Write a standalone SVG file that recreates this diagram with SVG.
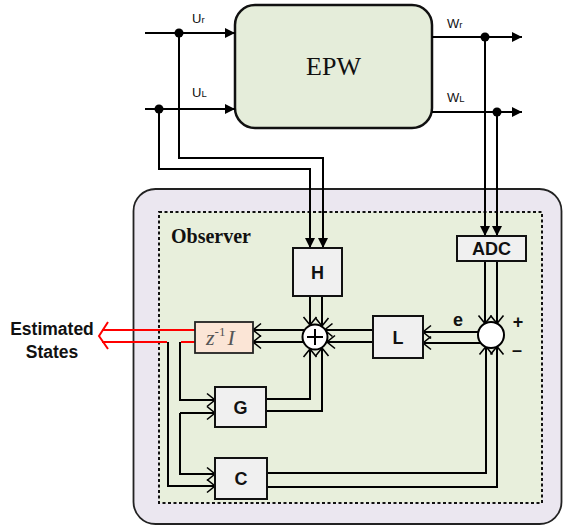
<svg xmlns="http://www.w3.org/2000/svg" width="565" height="530" viewBox="0 0 565 530">
<style>
.ln{fill:none;stroke:#000;stroke-width:2;stroke-linejoin:miter}
.red{fill:none;stroke:#ff0000;stroke-width:2}
.blk{fill:#f0f0f0;stroke:#111;stroke-width:2}
.lbl{font-family:"Liberation Sans",Arial,sans-serif;font-weight:bold;font-size:18px;fill:#111;text-anchor:middle}
.sig{font-family:"Liberation Sans",Arial,sans-serif;font-size:13px;fill:#111}
.sub{font-size:9.5px}
</style>
<defs>
<marker id="fa" markerUnits="userSpaceOnUse" viewBox="-11 -6 12 12" refX="0" refY="0" markerWidth="12" markerHeight="12" orient="auto">
<path d="M-10,-5 L0,0 L-10,5 Z" fill="#000"/>
</marker>
<marker id="oa" markerUnits="userSpaceOnUse" viewBox="-11 -8 13 16" refX="0" refY="0" markerWidth="13" markerHeight="16" orient="auto">
<path d="M-8,-6.5 L0,0 L-8,6.5" fill="none" stroke="#000" stroke-width="1.6"/>
</marker>
</defs>
<rect width="565" height="530" fill="#fff"/>
<g id="observer-frame">
<rect x="133.5" y="189" width="428" height="335" rx="22" fill="#ebe7f0" stroke="#222" stroke-width="1.8"/>
<rect x="159" y="212" width="383" height="291" fill="#e8efdc" stroke="#111" stroke-width="2" stroke-dasharray="3,2.5"/>
<text x="171" y="243" font-family="'Liberation Serif','Times New Roman',serif" font-weight="bold" font-size="20" fill="#111">Observer</text>
</g>
<g id="epw">
<rect x="235" y="5" width="197" height="123" rx="20" fill="#e5edda" stroke="#111" stroke-width="2.5"/>
<text x="333.5" y="75" font-family="'Liberation Serif','Times New Roman',serif" font-size="26" fill="#111" text-anchor="middle">EPW</text>
</g>
<g id="connectors">
<path class="ln" d="M145,33 H235" marker-end="url(#fa)"/>
<path class="ln" d="M145,109 H235" marker-end="url(#fa)"/>
<path class="ln" d="M179,33 V158 H323 V248" marker-end="url(#fa)"/>
<path class="ln" d="M159,109 V169 H310 V248" marker-end="url(#fa)"/>
<path class="ln" d="M432,37 H522" marker-end="url(#fa)"/>
<path class="ln" d="M432,112 H522" marker-end="url(#fa)"/>
<path class="ln" d="M485,37 V236" marker-end="url(#fa)"/>
<path class="ln" d="M497,112 V236" marker-end="url(#fa)"/>
<path class="ln" d="M485,261 V323.5" marker-end="url(#oa)"/>
<path class="ln" d="M497,261 V323.5" marker-end="url(#oa)"/>
<path class="ln" d="M478,332 H423" marker-end="url(#oa)"/>
<path class="ln" d="M481,343 H423" marker-end="url(#oa)"/>
<path class="ln" d="M373,330 H324.5" marker-end="url(#oa)"/>
<path class="ln" d="M373,342 H327" marker-end="url(#oa)"/>
<path class="ln" d="M310,296 V325" marker-end="url(#oa)"/>
<path class="ln" d="M322,296 V326" marker-end="url(#oa)"/>
<path class="ln" d="M305.5,330 H253" marker-end="url(#oa)"/>
<path class="ln" d="M303,342 H253" marker-end="url(#oa)"/>
<path class="ln" d="M266,399 H310 V349" marker-end="url(#oa)"/>
<path class="ln" d="M266,411 H322 V348" marker-end="url(#oa)"/>
<path class="ln" d="M180,342 V400 H215" marker-end="url(#oa)"/>
<path class="ln" d="M180,413 H215" marker-end="url(#oa)"/>
<path class="ln" d="M180,413 V474 H215" marker-end="url(#oa)"/>
<path class="ln" d="M168,342 V486 H215" marker-end="url(#oa)"/>
<path class="ln" d="M267,473 H486 V346.5" marker-end="url(#oa)"/>
<path class="ln" d="M267,487 H497 V346.5" marker-end="url(#oa)"/>
<path class="red" d="M195,330 H102"/>
<path class="red" d="M195,342 H181"/>
<path class="red" d="M167,342 H102"/>
<path class="red" d="M108,322 L99,336 L108,349"/>
<circle cx="179" cy="33" r="4.5" fill="#000"/>
<circle cx="159" cy="109" r="4.5" fill="#000"/>
<circle cx="485" cy="37" r="4.5" fill="#000"/>
<circle cx="497" cy="112" r="4.5" fill="#000"/>
</g>
<g id="labels">
<text class="sig" x="192" y="23">U<tspan class="sub">r</tspan></text>
<text class="sig" x="192" y="97">U<tspan class="sub">L</tspan></text>
<text class="sig" x="447" y="28">W<tspan class="sub">r</tspan></text>
<text class="sig" x="447" y="102">W<tspan class="sub">L</tspan></text>
<text x="52" y="335" font-family="'Liberation Sans',Arial,sans-serif" font-weight="bold" font-size="17.5" fill="#111" text-anchor="middle">Estimated</text>
<text x="52" y="358" font-family="'Liberation Sans',Arial,sans-serif" font-weight="bold" font-size="17.5" fill="#111" text-anchor="middle">States</text>
<text x="458" y="326" class="lbl" font-size="18">e</text>
<text x="518" y="328" class="lbl" font-size="24">+</text>
<text x="517" y="356" class="lbl" font-size="20">–</text>
</g>
<g id="H"><rect class="blk" x="293" y="248" width="49" height="48"/><text class="lbl" x="317.5" y="279">H</text></g>
<g id="ADC"><rect class="blk" x="457" y="236" width="69" height="25"/><text class="lbl" x="491.5" y="255">ADC</text></g>
<g id="L"><rect class="blk" x="373" y="316" width="50" height="42"/><text class="lbl" x="398" y="344">L</text></g>
<g id="G"><rect class="blk" x="215" y="387" width="51" height="40"/><text class="lbl" x="240.5" y="414">G</text></g>
<g id="C"><rect class="blk" x="215" y="458" width="52" height="41"/><text class="lbl" x="241" y="485">C</text></g>
<g id="delay"><rect x="195" y="322" width="58" height="31" fill="#fbe5d6" stroke="#222" stroke-width="1.8"/>
<text x="206" y="345" font-family="'Liberation Serif','Times New Roman',serif" font-size="22" fill="#555"><tspan font-style="italic">z</tspan><tspan font-size="13" dy="-9">-1</tspan><tspan font-style="italic" dy="9" dx="2">I</tspan></text></g>
<g id="sum"><circle cx="315" cy="337" r="12.5" fill="#fff" stroke="#000" stroke-width="2"/><path d="M315,329 V345 M307,337 H323" stroke="#000" stroke-width="2"/></g>
<g id="error"><circle cx="491" cy="335" r="13" fill="#fff" stroke="#000" stroke-width="2"/></g>
</svg>
